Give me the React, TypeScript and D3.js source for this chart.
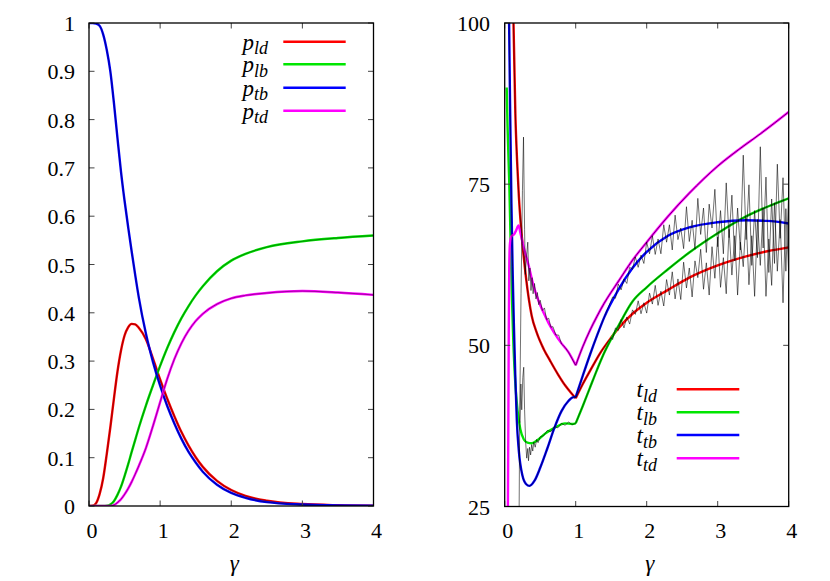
import React from "react";
import * as d3 from "d3";

type Pt = [number, number];

const FONT = "Liberation Serif";

// ---------- axes ----------
const xTicks = [0, 1, 2, 3, 4];
const xTickLabels = ["0", "1", "2", "3", "4"];
const pTicks = [0, 0.1, 0.2, 0.3, 0.4, 0.5, 0.6, 0.7, 0.8, 0.9, 1];
const pTickLabels = ["0", "0.1", "0.2", "0.3", "0.4", "0.5", "0.6", "0.7", "0.8", "0.9", "1"];
const tTicks = [25, 50, 75, 100];
const tTickLabels = ["25", "50", "75", "100"];

const seriesKeys = ["ld", "lb", "tb", "td"];
const seriesColors = ["#ff0000", "#00e600", "#0000ff", "#ff00ff"];

// ---------- left panel: probabilities ----------
const pGamma = [0, 0.05, 0.1, 0.15, 0.2, 0.25, 0.3, 0.35, 0.4, 0.45, 0.5, 0.55, 0.6, 0.65, 0.7, 0.8, 0.9, 1.0, 1.1, 1.2, 1.3, 1.4, 1.5, 1.6, 1.8, 2.0, 2.2, 2.5, 3.0, 3.5, 4.0];
const pLd = [0, 0.0005, 0.006, 0.025, 0.058, 0.108, 0.163, 0.222, 0.278, 0.322, 0.353, 0.37, 0.377, 0.376, 0.369, 0.345, 0.305, 0.262, 0.222, 0.186, 0.153, 0.125, 0.101, 0.081, 0.052, 0.033, 0.021, 0.011, 0.004, 0.0015, 0.0006];
const pLb = [0, 0, 0, 0, 0, 0.0005, 0.003, 0.01, 0.023, 0.04, 0.062, 0.086, 0.112, 0.137, 0.162, 0.208, 0.25, 0.29, 0.327, 0.36, 0.389, 0.414, 0.436, 0.455, 0.486, 0.508, 0.522, 0.536, 0.548, 0.555, 0.56];
const pTb = [1, 1, 0.999, 0.994, 0.976, 0.944, 0.9, 0.835, 0.762, 0.692, 0.632, 0.578, 0.527, 0.478, 0.432, 0.357, 0.298, 0.249, 0.207, 0.171, 0.139, 0.112, 0.09, 0.071, 0.044, 0.027, 0.017, 0.008, 0.003, 0.001, 0.0004];
const pTd = [0, 0, 0, 0, 0, 0, 0, 0.002, 0.007, 0.014, 0.024, 0.036, 0.05, 0.066, 0.083, 0.12, 0.166, 0.215, 0.263, 0.304, 0.337, 0.363, 0.383, 0.398, 0.418, 0.43, 0.436, 0.441, 0.445, 0.442, 0.437];

// ---------- right panel: times (theory) ----------
const tLdGamma = [0.118, 0.124, 0.15, 0.175, 0.2, 0.225, 0.25, 0.3, 0.38, 0.45, 0.55, 0.64, 0.75, 0.85, 0.93, 1.0, 1.1, 1.2, 1.345, 1.5, 1.6, 1.8, 2.0, 2.3, 2.6, 3.0, 3.4, 3.7, 4.0];
const tLd = [104, 100, 86, 78.5, 73, 69, 65.8, 60.5, 54.6, 52, 49.4, 47.6, 45.5, 43.8, 42.7, 41.8, 44.0, 46.0, 48.8, 51.2, 52.6, 54.9, 56.6, 58.6, 60.5, 62.4, 63.8, 64.6, 65.2];

const tLbGamma = [0.028, 0.04, 0.065, 0.1, 0.12, 0.15, 0.18, 0.22, 0.27, 0.32, 0.38, 0.45, 0.57, 0.7, 0.85, 0.95, 1.0, 1.1, 1.2, 1.3, 1.4, 1.5, 1.6, 1.8, 2.0, 2.3, 2.6, 3.0, 3.4, 3.7, 4.0];
const tLb = [90, 84, 75, 58, 51, 44, 40, 37, 35.4, 34.9, 34.8, 35.2, 36.3, 37.2, 37.9, 37.8, 37.9, 40.6, 43.4, 46.2, 48.8, 51.0, 53.0, 56.8, 59.0, 61.8, 64.4, 67.4, 70.0, 71.5, 72.8];

const tTbGamma = [0.055, 0.062, 0.08, 0.095, 0.113, 0.13, 0.15, 0.17, 0.2, 0.25, 0.3, 0.35, 0.42, 0.5, 0.6, 0.7, 0.8, 0.9, 0.95, 1.0, 1.1, 1.2, 1.3, 1.4, 1.6, 1.8, 2.0, 2.3, 2.6, 3.0, 3.4, 3.7, 4.0];
const tTb = [110, 100, 84, 72, 61, 53, 45, 38.5, 33.5, 29.8, 28.5, 28.2, 29.0, 31.0, 34.0, 37.2, 39.8, 41.4, 41.9, 42.0, 45.3, 48.5, 51.5, 54.3, 58.6, 62.0, 64.5, 67.0, 68.3, 69.1, 69.4, 69.3, 68.9];

const tTdGamma = [0.043, 0.05, 0.057, 0.064, 0.072, 0.085, 0.1, 0.13, 0.16, 0.195, 0.22, 0.25, 0.29, 0.335, 0.4, 0.48, 0.55, 0.62, 0.7, 0.8, 0.9, 1.0, 1.1, 1.2, 1.3, 1.4, 1.6, 1.8, 2.0, 2.3, 2.6, 3.0, 3.3, 3.6, 4.0];
const tTd = [20, 35, 52, 62, 65.5, 66.6, 67.0, 67.2, 67.8, 68.6, 67.5, 66.0, 64.3, 62.5, 59.5, 56.8, 55.0, 53.4, 51.9, 50.3, 48.9, 46.9, 49.8, 52.3, 54.5, 56.5, 59.9, 63.2, 66.0, 70.0, 73.6, 77.8, 80.4, 82.8, 86.2];

// ---------- right panel: simulation (noisy parts) ----------
const tTdSimGamma = [0.203, 0.212, 0.23, 0.25, 0.265, 0.28, 0.29, 0.305, 0.325, 0.34, 0.355, 0.37, 0.385, 0.4, 0.42, 0.44, 0.46, 0.48, 0.5, 0.53, 0.56, 0.59, 0.62, 0.65, 0.68, 0.72, 0.76, 0.8, 0.85, 0.9];
const tTdSim = [24, 40, 58, 74, 82.3, 68, 61, 63.5, 66, 60, 62, 58.5, 60.5, 58, 59.6, 57.2, 58.2, 56.3, 57, 55.4, 55.8, 54.0, 54.2, 52.8, 52.9, 51.6, 51.6, 50.2, 49.7, 48.9];

const tLbSimGamma = [0.215, 0.228, 0.24, 0.255, 0.268, 0.28, 0.295, 0.31, 0.325, 0.335, 0.35, 0.365, 0.38, 0.395, 0.41, 0.43, 0.45, 0.47, 0.5, 0.55, 0.6, 0.65, 0.7, 0.75, 0.8, 0.85, 0.9, 0.95, 1.0];
const tLbSim = [38, 44, 40, 45, 46.6, 40, 35, 32.5, 34, 32.1, 34.2, 33.0, 34.6, 33.6, 35.0, 34.2, 35.4, 34.9, 35.8, 36.0, 36.8, 36.6, 37.4, 37.2, 37.9, 37.6, 38.1, 37.7, 37.9];

const noiseGamma = [1.52, 1.56, 1.6, 1.64, 1.68, 1.72, 1.76, 1.8, 1.84, 1.88, 1.92, 1.96, 2.0, 2.04, 2.08, 2.12, 2.16, 2.2, 2.24, 2.28, 2.32, 2.36, 2.4, 2.44, 2.48, 2.52, 2.56, 2.6, 2.64, 2.68, 2.72, 2.76, 2.8, 2.84, 2.88, 2.92, 2.96, 3.0, 3.04, 3.08, 3.12, 3.16, 3.2, 3.24, 3.28, 3.32, 3.36, 3.4, 3.44, 3.48, 3.52, 3.56, 3.6, 3.64, 3.68, 3.72, 3.76, 3.8, 3.84, 3.88, 3.92, 3.96, 4.0];
const tTbSim = [
  57.5, 57.3, 59.5, 58.6, 60.3, 59.6, 62.1, 61.8, 63.7, 62.1,
  64.0, 62.7, 66.0, 64.2, 67.0, 64.1, 66.5, 64.2, 68.7, 66.0,
  68.7, 64.8, 70.2, 66.4, 68.2, 65.0, 71.5, 66.1, 69.4, 64.9,
  72.8, 67.2, 71.3, 64.4, 71.9, 68.2, 74.2, 65.3, 70.9, 64.2,
  75.2, 66.7, 73.3, 63.1, 71.3, 64.8, 79.5, 66.4, 74.9, 62.4,
  70.9, 63.6, 80.8, 65.1, 76.1, 61.3, 72.7, 62.7, 78.1, 66.6,
  76.0, 61.5, 73.9,
];
const tLdSim = [
  50.9, 52.7, 52.3, 54.0, 52.7, 54.4, 53.3, 55.5, 54.8, 56.9,
  54.9, 56.6, 55.0, 58.1, 56.4, 59.3, 56.2, 58.4, 56.1, 60.2,
  57.8, 61.4, 57.2, 60.3, 57.1, 62.9, 58.9, 62.0, 57.5, 63.1,
  60.5, 64.9, 58.7, 62.8, 57.8, 65.3, 60.4, 66.8, 59.0, 63.6,
  58.0, 68.0, 60.9, 67.0, 57.8, 66.0, 62.2, 69.8, 59.4, 67.0,
  57.6, 69.5, 62.4, 71.3, 57.6, 66.5, 59.3, 72.1, 61.5, 69.5,
  56.6, 71.2, 61.2,
];

// ---------- helpers ----------
const zip = (g: number[], v: number[]): Pt[] => g.map((x, i) => [x, v[i]] as Pt);

type Scale = d3.ScaleLinear<number, number>;

function smoothPath(pts: Pt[], x: Scale, y: Scale, kink?: number): string {
  const gen = d3.line<Pt>().x((d) => x(d[0])).y((d) => y(d[1])).curve(d3.curveMonotoneX);
  if (kink === undefined) return gen(pts) || "";
  const a = pts.filter((p) => p[0] <= kink);
  const b = pts.filter((p) => p[0] >= kink);
  return (a.length > 1 ? gen(a) || "" : "") + (b.length > 1 ? gen(b) || "" : "");
}
function linearPath(pts: Pt[], x: Scale, y: Scale): string {
  return d3.line<Pt>().x((d) => x(d[0])).y((d) => y(d[1]))(pts) || "";
}

// ---------- scales ----------
const xL = d3.scaleLinear().domain([0, 4]).range([89, 373.5]);
const yL = d3.scaleLinear().domain([0, 1]).range([506, 23]);
const xR = d3.scaleLinear().domain([0, 4]).range([504.7, 788.7]);
const yR = d3.scaleLinear().domain([25, 100]).range([506.5, 23]);

const COLOR_W = 2.4;
const SIM_W = 0.7;

function Frame(props: {
  x: Scale; y: Scale; yTicks: number[]; yLabels: string[]; labelRight: number;
}) {
  const { x, y, yTicks, yLabels, labelRight } = props;
  const [x0, x1] = x.range();
  const [y0, y1] = y.range();
  const tl = 5.5;
  return (
    <g>
      {xTicks.map((t) => (
        <g key={"xt" + t}>
          <line x1={x(t)} x2={x(t)} y1={y0} y2={y0 - tl} stroke="#444" strokeWidth={1} />
          <line x1={x(t)} x2={x(t)} y1={y1} y2={y1 + tl} stroke="#444" strokeWidth={1} />
        </g>
      ))}
      {yTicks.map((t) => (
        <g key={"yt" + t}>
          <line x1={x0} x2={x0 + tl} y1={y(t)} y2={y(t)} stroke="#444" strokeWidth={1} />
          <line x1={x1} x2={x1 - tl} y1={y(t)} y2={y(t)} stroke="#444" strokeWidth={1} />
        </g>
      ))}
      <rect x={x0} y={y1} width={x1 - x0} height={y0 - y1} fill="none" stroke="#000" strokeWidth={1.3} />
      {xTicks.map((t, i) => (
        <text key={"xl" + t} x={x(t) + 3} y={538} textAnchor="middle" fontSize={22} fontFamily={FONT}>
          {xTickLabels[i]}
        </text>
      ))}
      {yTicks.map((t, i) => (
        <text key={"yl" + t} x={labelRight} y={y(t) + 8} textAnchor="end" fontSize={22} fontFamily={FONT}>
          {yLabels[i]}
        </text>
      ))}
      <text x={(x0 + x1) / 2 + 3} y={571} textAnchor="middle" fontSize={23} fontStyle="italic" fontFamily={FONT}>
        γ
      </text>
    </g>
  );
}

function Legend(props: { base: string; textRight: number; lineX0: number; lineX1: number; rows: number[] }) {
  const { base, textRight, lineX0, lineX1, rows } = props;
  return (
    <g>
      {seriesKeys.map((k, i) => (
        <g key={k}>
          <text x={textRight} y={rows[i] + 8} textAnchor="end" fontSize={23} fontStyle="italic" fontFamily={FONT}>
            {base}
            <tspan fontSize={18} dy={4.5}>{k}</tspan>
          </text>
          <line x1={lineX0} x2={lineX1} y1={rows[i]} y2={rows[i]} stroke={seriesColors[i]} strokeWidth={COLOR_W} />
        </g>
      ))}
    </g>
  );
}

export default function App() {
  const pSeries = [pLd, pLb, pTb, pTd].map((v) => zip(pGamma, v));

  const tSmooth = [zip(tLdGamma, tLd), zip(tLbGamma, tLb), zip(tTbGamma, tTb), zip(tTdGamma, tTd)];
  const ldNoise = zip(noiseGamma, tLdSim);
  const tbNoise = zip(noiseGamma, tTbSim);
  const tdSim = zip(tTdSimGamma, tTdSim);
  const lbSim = zip(tLbSimGamma, tLbSim);

  const ldOver = tSmooth[0].filter((p) => p[0] <= 1.5);
  const tbOver = tSmooth[2].filter((p) => p[0] <= 1.4);
  const lbOver = tSmooth[1].filter((p) => p[0] >= 1.0);
  const tdOver = tSmooth[3].filter((p) => p[0] >= 0.9);

  const simPaths: string[] = [
    smoothPath(ldOver, xR, yR, 1) + linearPath([ldOver[ldOver.length - 1], ...ldNoise], xR, yR),
    linearPath(lbSim, xR, yR) + smoothPath(lbOver, xR, yR, 1),
    smoothPath(tbOver, xR, yR, 1) + linearPath([tbOver[tbOver.length - 1], ...tbNoise], xR, yR),
    linearPath(tdSim, xR, yR) + smoothPath(tdOver, xR, yR, 1),
  ];

  return (
    <svg
      width={830}
      height={581}
      viewBox="0 0 830 581"
      style={{ position: "absolute", left: 0, top: 0, background: "#fff" }}
    >
      <defs>
        <clipPath id="clipL">
          <rect x={xL(0)} y={yL(1)} width={xL(4) - xL(0)} height={yL(0) - yL(1)} />
        </clipPath>
        <clipPath id="clipR">
          <rect x={xR(0)} y={yR(100)} width={xR(4) - xR(0)} height={yR(25) - yR(100)} />
        </clipPath>
      </defs>
      <rect x={0} y={0} width={830} height={581} fill="#fff" />

      {/* Left panel */}
      <g clipPath="url(#clipL)">
        {pSeries.map((pts, i) => (
          <g key={"p" + i}>
            <path d={smoothPath(pts, xL, yL)} fill="none" stroke={seriesColors[i]} strokeWidth={COLOR_W} />
            <path d={smoothPath(pts, xL, yL)} fill="none" stroke="#000" strokeWidth={SIM_W} strokeOpacity={0.55} />
          </g>
        ))}
      </g>
      <Frame x={xL} y={yL} yTicks={pTicks} yLabels={pTickLabels} labelRight={75} />
      <Legend base="p" textRight={268} lineX0={283.3} lineX1={345.7} rows={[41.7, 64.3, 87.7, 110.7]} />

      {/* Right panel */}
      <g clipPath="url(#clipR)">
        {tSmooth.map((pts, i) => (
          <path key={"t" + i} d={smoothPath(pts, xR, yR, 1)} fill="none" stroke={seriesColors[i]} strokeWidth={COLOR_W} />
        ))}
        {simPaths.map((d, i) => (
          <path key={"s" + i} d={d} fill="none" stroke="#000" strokeWidth={SIM_W} strokeOpacity={0.8} strokeLinejoin="round" />
        ))}
      </g>
      <Frame x={xR} y={yR} yTicks={tTicks} yLabels={tTickLabels} labelRight={490} />
      <Legend base="t" textRight={657} lineX0={676.7} lineX1={739.3} rows={[389.3, 412.3, 435, 458.3]} />
    </svg>
  );
}
